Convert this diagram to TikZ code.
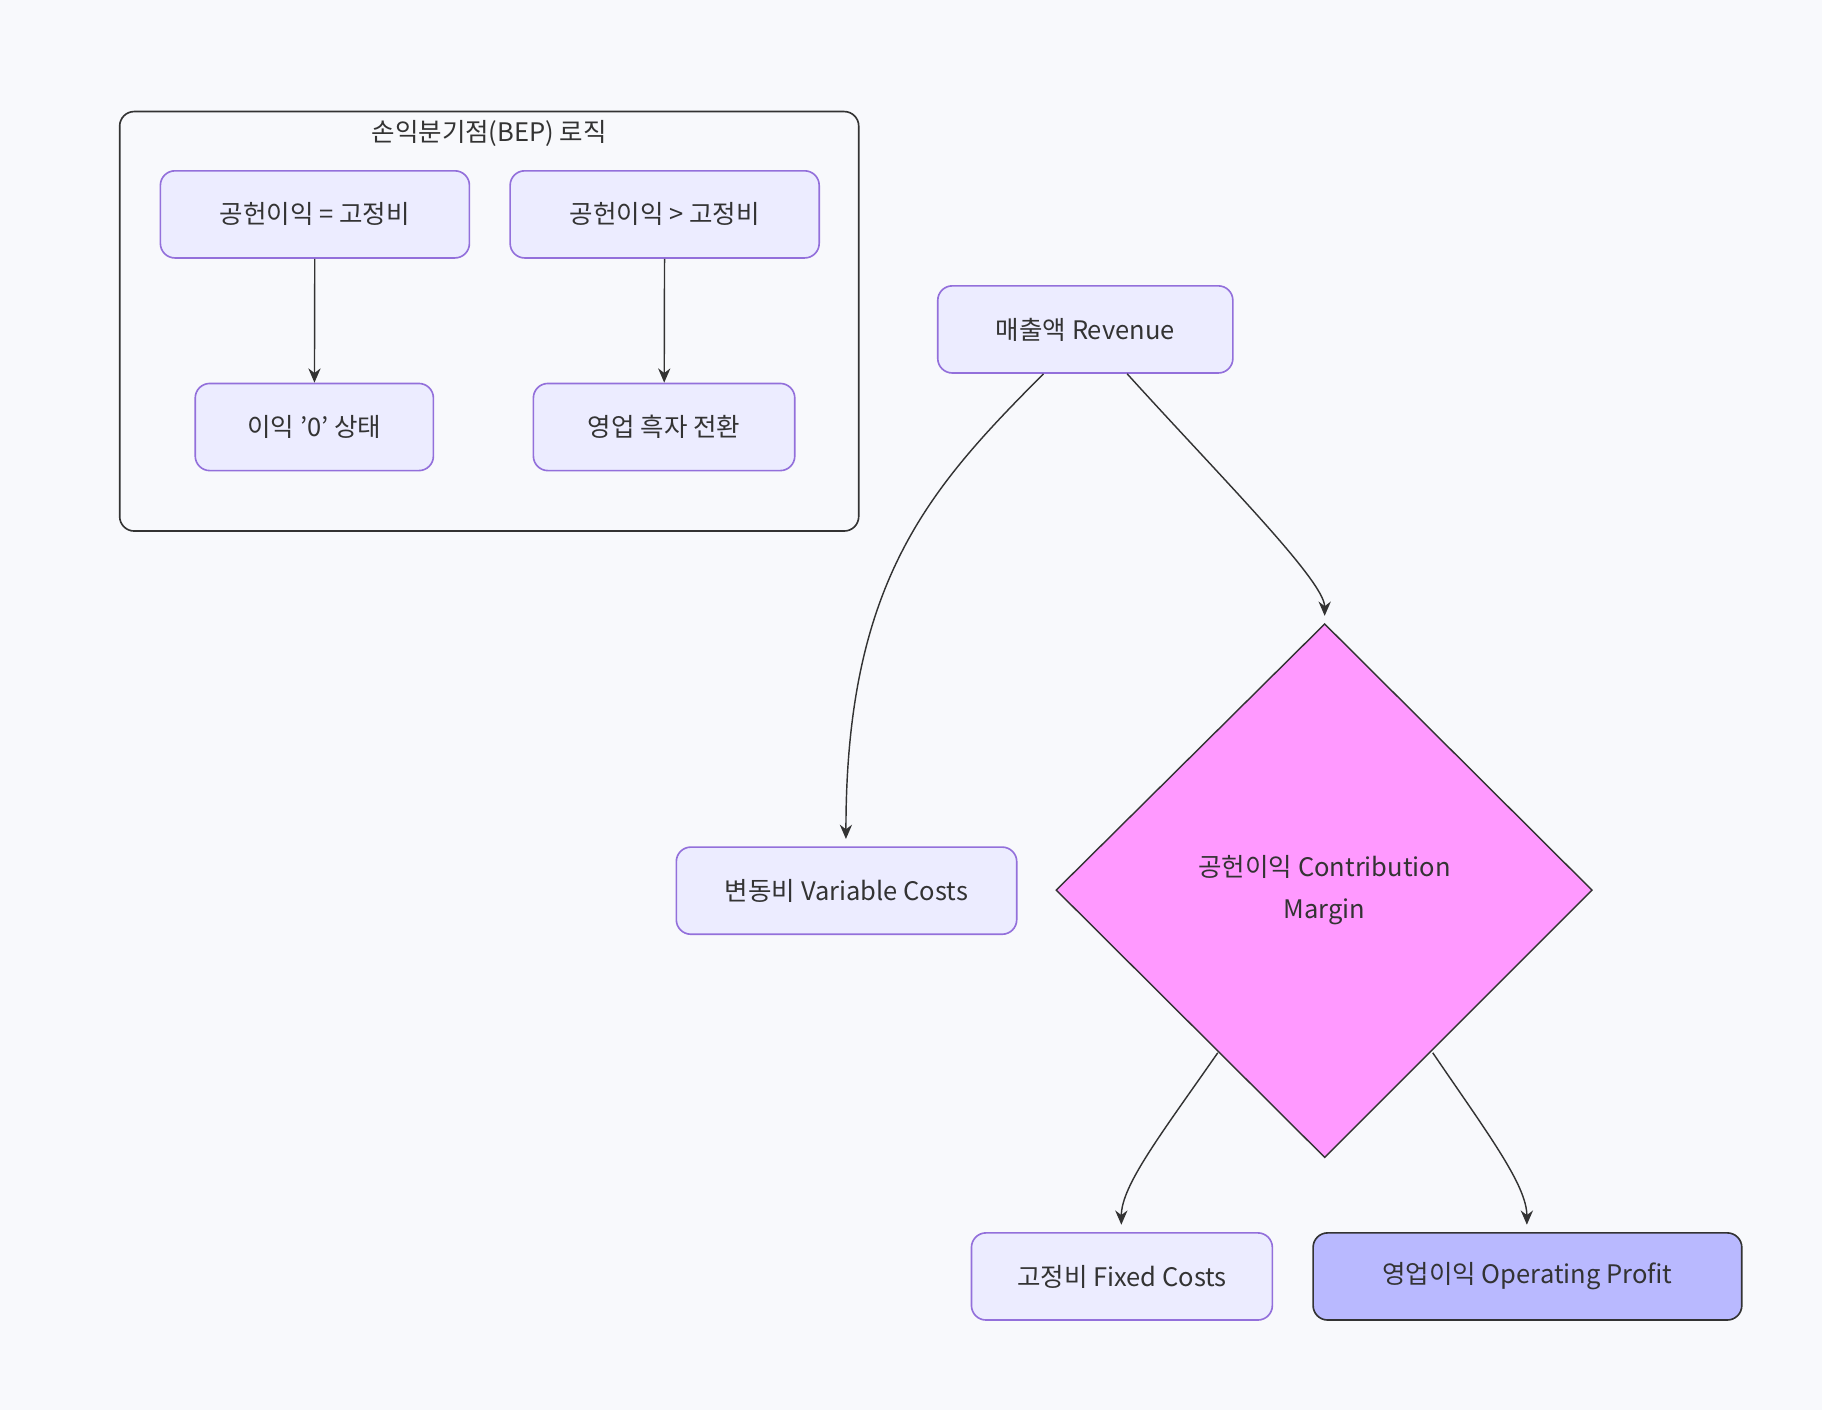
\documentclass[tikz,border=0pt]{standalone}
\usepackage{fontspec}
\setmainfont{Noto Sans CJK KR}
\usetikzlibrary{shapes.geometric,arrows.meta}
\definecolor{bg}{HTML}{F8F9FC}
\definecolor{nfill}{HTML}{ECECFF}
\definecolor{nline}{HTML}{9370DB}
\definecolor{dk}{HTML}{333333}
\begin{document}
\begin{tikzpicture}[x=0.02cm,y=-0.02cm,
  box/.style={draw=nline,fill=nfill,rounded corners=0.25cm,line width=0.8pt,font=\fontsize{12.5}{15}\selectfont,text=dk,inner sep=0pt},
  arr/.style={draw=dk,line width=0.7pt,-{Stealth[length=7pt,width=6pt]}}]
\fill[bg] (0,0) rectangle (1568,1213);
\useasboundingbox (0,0) rectangle (1568,1213);
\draw[dk,line width=0.8pt,rounded corners=0.25cm] (103,96) rectangle (739,457);
\node[font=\fontsize{12.5}{15}\selectfont,text=dk] (title) at (421,115) {손익분기점(BEP) 로직};
\node[box,minimum width=5.32cm,minimum height=1.5cm] (a) at (271,184.5) {공헌이익 = 고정비};
\node[box,minimum width=5.32cm,minimum height=1.5cm] (b) at (572,184.5) {공헌이익 > 고정비};
\node[box,minimum width=4.1cm,minimum height=1.5cm] (c) at (270.5,367.5) {이익 '0' 상태};
\node[box,minimum width=4.5cm,minimum height=1.5cm] (d) at (571.5,367.5) {영업 흑자 전환};
\node[box,minimum width=5.08cm,minimum height=1.5cm] (rev) at (934,283.5) {매출액 Revenue};
\node[box,minimum width=5.86cm,minimum height=1.5cm] (var) at (728.5,766.5) {변동비 Variable Costs};
\node[box,minimum width=5.18cm,minimum height=1.5cm] (fix) at (965.5,1098.5) {고정비 Fixed Costs};
\node[box,draw=dk,fill={rgb,255:red,185;green,185;blue,255},minimum width=7.38cm,minimum height=1.5cm] (op) at (1314.5,1098.5) {영업이익 Operating Profit};
\coordinate (dc) at (1140,766);
\draw[dk,fill={rgb,255:red,255;green,153;blue,255},line width=0.7pt] (1140,537) coordinate (dt) -- (1370,766) -- (1140,996) -- (909,766) -- cycle;
\node[font=\fontsize{12.5}{15}\selectfont,text=dk,align=center] (cm) at (dc) {공헌이익 Contribution\\[6pt]Margin};
\draw[arr] (a) -- (c);
\draw[arr] (b) -- (d);
\draw[arr] (rev.south) ++(-36,0) .. controls (800,420) and (728,500) .. (728,722);
\draw[arr] (rev.south) ++(36,0) .. controls (1050,410) and (1140,500) .. (1140,530);
\draw[arr] (1048,906) .. controls (1000,975) and (965,1020) .. (965,1054);
\draw[arr] (1233,906) .. controls (1280,975) and (1314,1020) .. (1314,1054);
\end{tikzpicture}
\end{document}
